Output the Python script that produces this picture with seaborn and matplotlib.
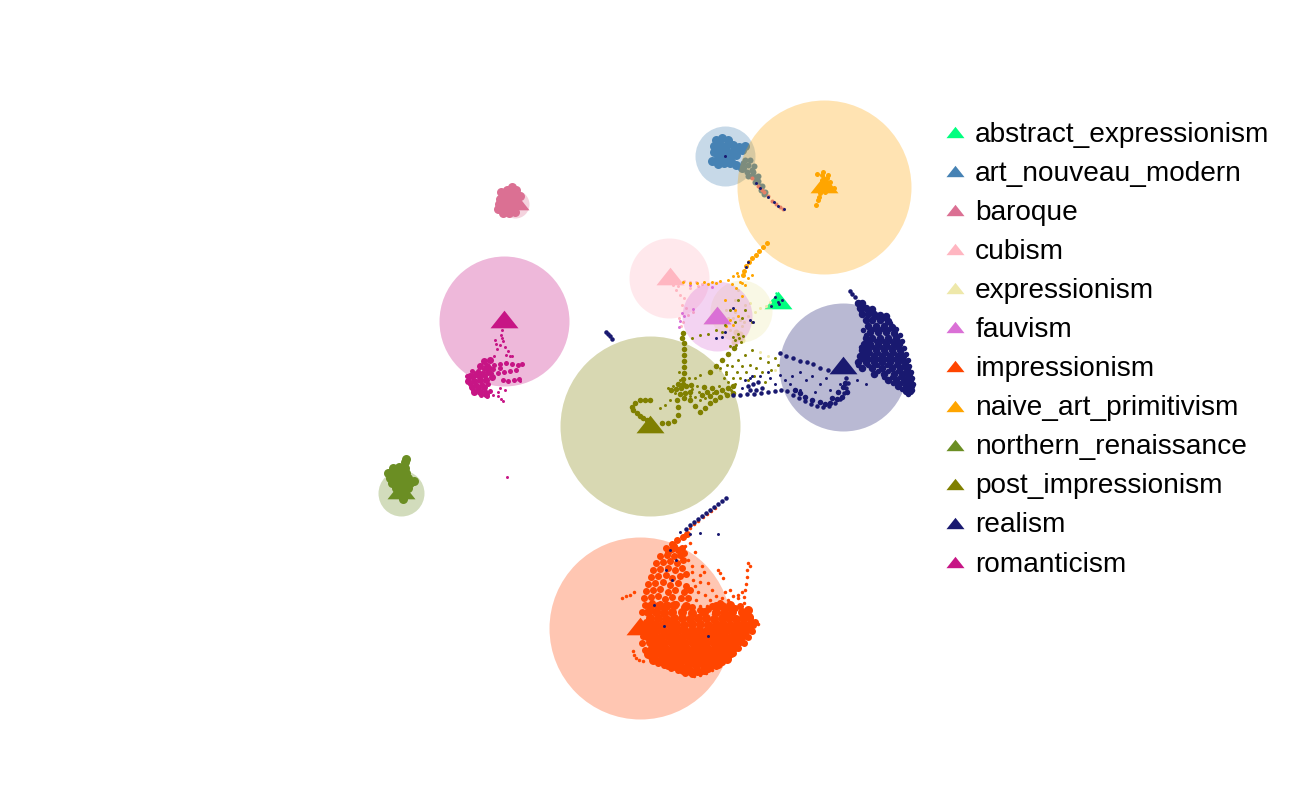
#!/usr/bin/env python3
"""Painting style embedding: points per class, class centres and class spread."""

import numpy as np
import pandas as pd
import seaborn as sns
import matplotlib
matplotlib.use('Agg')
import matplotlib.pyplot as plt
from matplotlib.lines import Line2D

# ============================================================
# DATA (embedding coordinates)
# ============================================================
styles = ['abstract_expressionism', 'art_nouveau_modern', 'baroque', 'cubism',
          'expressionism', 'fauvism', 'impressionism', 'naive_art_primitivism',
          'northern_renaissance', 'post_impressionism', 'realism', 'romanticism']
colours = ['springgreen', 'steelblue', 'palevioletred', 'lightpink',
           'palegoldenrod', 'orchid', 'orangered', 'orange',
           'olivedrab', 'olive', 'midnightblue', 'mediumvioletred']
centre_x = [778, 725, 515, 670, 717, 717, 640, 824, 401, 650, 843, 504]
centre_y = [300, 156, 201, 276, 315, 315, 626, 184, 490, 424, 365, 319]
circle_x = [778, 725, 515, 669, 741, 717, 640, 824, 401, 650, 843, 504]
circle_y = [300, 156, 204, 278, 311, 316, 628, 187, 493, 426, 367, 321]
spread = [2, 30, 14, 40, 31, 35, 91, 87, 23, 90, 64, 65]

impressionism_dense = [
    (683, 670), (690, 671), (697, 671), (704, 670),
    (668, 665), (675, 666), (680, 665), (688, 666), (696, 665), (704, 666), (711, 665), (718, 664),
    (653, 660), (659, 661), (665, 660), (672, 660), (679, 661), (686, 660), (693, 660), (700, 661),
    (707, 660), (714, 660), (721, 660), (727, 659),
    (648, 654), (655, 654), (662, 655), (669, 654), (676, 654), (683, 655), (690, 654), (697, 654),
    (704, 655), (711, 654), (718, 654), (725, 654), (731, 653),
    (652, 648), (659, 648), (666, 649), (673, 648), (680, 648), (687, 649), (694, 648), (701, 648),
    (708, 649), (715, 648), (722, 648), (729, 648), (735, 647),
    (650, 642), (657, 642), (664, 643), (671, 642), (678, 642), (685, 643), (692, 642), (699, 642),
    (706, 643), (713, 642), (720, 642), (727, 642), (734, 642), (740, 641),
    (647, 636), (654, 636), (661, 637), (668, 636), (675, 636), (682, 637), (689, 636), (696, 636),
    (703, 637), (710, 636), (717, 636), (724, 636), (731, 637), (738, 636), (744, 635),
    (650, 630), (657, 630), (664, 631), (671, 630), (678, 630), (685, 631), (692, 630), (699, 630),
    (706, 631), (713, 630), (720, 630), (727, 630), (734, 631), (741, 630), (748, 629),
    (648, 624), (655, 624), (662, 625), (669, 624), (676, 624), (684, 625), (692, 624), (700, 624),
    (708, 625), (716, 624), (723, 624), (730, 625), (737, 624), (744, 624), (751, 623),
    (650, 618), (658, 618), (666, 619), (674, 618), (682, 618), (690, 619), (698, 618), (706, 618),
    (714, 619), (722, 618), (729, 618), (736, 619), (743, 618), (749, 617),
    (648, 612), (656, 612), (664, 613), (672, 612), (682, 612), (692, 613), (704, 612), (716, 612),
    (724, 613), (732, 612), (742, 612), (748, 610),
    (650, 606), (658, 606), (666, 606), (674, 605), (686, 606), (716, 606), (722, 606), (730, 605),
]
impressionism_fill = [
    (666, 548), (672, 549), (678, 550), (682, 548), (660, 556), (667, 555), (674, 556), (680, 555),
    (684, 553), (656, 563), (663, 562), (670, 561), (677, 563), (683, 560), (653, 570), (660, 569),
    (668, 568), (675, 570), (682, 568), (651, 577), (658, 576), (666, 575), (672, 578), (680, 576),
    (686, 574), (648, 584), (655, 583), (663, 582), (670, 585), (678, 583), (686, 586), (646, 591),
    (653, 590), (660, 589), (668, 592), (675, 590), (684, 592), (690, 590), (644, 598), (651, 597),
    (658, 596), (665, 599), (672, 597), (681, 598), (688, 598), (645, 605), (652, 603), (660, 604),
    (668, 605), (676, 604), (684, 607), (692, 607), (642, 612), (650, 610), (657, 611), (664, 609),
    (700, 610), (708, 609), (712, 606), (720, 603), (727, 608), (735, 608), (740, 606), (745, 613),
    (750, 618), (753, 625), (755, 622), (752, 631), (748, 637), (744, 643), (738, 648), (733, 653),
    (728, 657), (722, 662), (716, 666), (708, 669), (700, 672), (692, 674), (685, 673), (678, 670),
    (671, 668), (664, 665), (658, 663), (651, 657), (645, 650), (642, 643), (643, 636), (646, 622),
    (672, 544), (677, 540), (683, 537), (687, 534), (668, 552), (674, 546),
]
impressionism_fine = [
    (690, 528), (694, 524), (698, 521), (703, 517), (707, 514), (711, 511), (715, 508),
    (622, 598), (626, 596), (630, 595), (634, 592), (633, 651), (634, 655), (636, 658), (639, 660),
    (643, 661), (748, 563), (747, 570), (747, 577), (746, 584), (745, 590), (744, 597), (744, 603),
    (750, 566), (742, 592), (738, 598),
    (718, 570), (720, 573), (723, 578), (700, 582), (705, 595), (712, 590), (710, 600), (728, 600),
    (738, 595), (730, 590), (725, 592), (696, 600), (700, 606), (707, 606), (700, 575), (692, 572),
    (695, 586), (704, 572), (693, 580), (698, 592), (716, 596), (722, 598), (733, 596), (708, 583),
    (755, 623), (758, 624), (694, 676), (700, 675), (706, 673), (712, 670), (690, 543), (695, 552),
    (688, 560), (692, 566), (702, 566), (685, 546), (713, 614), (700, 614),
]

realism_dense = [
    (858, 303), (862, 303), (860, 308), (866, 308), (872, 309),
    (862, 314), (868, 314), (874, 314), (880, 315), (886, 316),
    (866, 320), (872, 320), (880, 320), (888, 321), (868, 326), (876, 326), (884, 326), (892, 327),
    (870, 332), (878, 332), (886, 332), (894, 333), (866, 338), (872, 338), (880, 338), (888, 338), (896, 338),
    (864, 344), (870, 344), (878, 344), (886, 344), (894, 344), (899, 344),
    (862, 350), (868, 350), (876, 350), (884, 350), (892, 350), (900, 350),
    (860, 356), (866, 356), (874, 356), (882, 356), (890, 356), (898, 356), (903, 356),
    (858, 362), (866, 362), (874, 362), (882, 362), (890, 362), (898, 362), (905, 362),
    (862, 368), (872, 368), (882, 368), (892, 368), (900, 368), (907, 368),
    (874, 374), (884, 374), (894, 374), (902, 374), (909, 374),
    (888, 380), (896, 380), (904, 380), (910, 380), (898, 386), (906, 386), (911, 386), (906, 391), (910, 391),
]
realism_fill = [
    (861, 311), (869, 311), (877, 317), (884, 318), (890, 323), (896, 329), (900, 335), (902, 341),
    (904, 348), (906, 354), (908, 360), (909, 366), (911, 372), (912, 378), (913, 384), (912, 390),
    (908, 394), (863, 330), (866, 335), (873, 329), (881, 329), (889, 329), (869, 341), (876, 341),
    (883, 341), (891, 341), (898, 341), (861, 347), (866, 347), (873, 347), (881, 347), (889, 347),
    (897, 347), (863, 353), (870, 353), (878, 353), (886, 353), (894, 353), (901, 353), (862, 359),
    (870, 359), (878, 359), (886, 359), (894, 359), (902, 359), (858, 365), (868, 365), (877, 365),
    (887, 365), (896, 365), (904, 365), (878, 371), (888, 371), (898, 371), (906, 371), (884, 377),
    (892, 377), (900, 377), (907, 377), (893, 383), (901, 383), (908, 383), (902, 389),
    (820, 402), (830, 403), (837, 399), (843, 387), (812, 400), (805, 397), (847, 392), (842, 397),
    (825, 404), (800, 393), (795, 390), (838, 392), (832, 398), (845, 383),
]
realism_curve = [
    (850, 291), (852, 294), (855, 297), (733, 395), (740, 395), (747, 394), (754, 394), (761, 393),
    (768, 392), (775, 391), (781, 390), (787, 391), (793, 395), (799, 398), (805, 401), (811, 404),
    (817, 406), (823, 407), (829, 406), (835, 403), (840, 399), (844, 393), (846, 388), (848, 383),
    (846, 378), (780, 353), (786, 356), (793, 358), (800, 361), (807, 362), (813, 364), (820, 368),
    (828, 370), (606, 332), (608, 334), (610, 336), (612, 339),
    (748, 386), (753, 384), (758, 382), (762, 388), (756, 390), (750, 390),
    (726, 498), (722, 501), (718, 504), (714, 507), (710, 510), (706, 513), (702, 516), (698, 519),
    (694, 522), (690, 525), (686, 529),
]
realism_fine = [
    (780, 375), (785, 380), (792, 376), (800, 372), (806, 380), (812, 376), (820, 384), (826, 378),
    (830, 390), (815, 392), (800, 390), (790, 384), (775, 384), (770, 378), (835, 372), (840, 384),
    (760, 376), (768, 372), (750, 378), (857, 380), (866, 384), (748, 262), (746, 267), (718, 534),
    (700, 533), (676, 560), (672, 580), (654, 605), (664, 626), (708, 636), (725, 156),
    (775, 297), (778, 302), (782, 300), (779, 304), (771, 306), (750, 320), (753, 322),
    (733, 308), (722, 337), (716, 338), (725, 332), (745, 380), (752, 376), (742, 388),
    (680, 532), (670, 550), (666, 570), (690, 534),
]

post_impressionism_dense = [
    (683, 333), (682, 338), (684, 343), (684, 349), (684, 355), (684, 361), (684, 367), (684, 373),
    (683, 379), (683, 384), (671, 390), (676, 389), (681, 388), (686, 386), (691, 385), (678, 384),
    (680, 394), (685, 393), (690, 392), (684, 398), (677, 400), (678, 407), (678, 415), (674, 421),
    (668, 423), (662, 423), (690, 400), (695, 406), (700, 412), (705, 408), (710, 403), (715, 400),
    (720, 397), (727, 395), (733, 393), (650, 400), (645, 400), (640, 400), (635, 403), (632, 407),
    (633, 410), (637, 413), (640, 416), (643, 418), (647, 420), (702, 395), (707, 392), (712, 388),
    (704, 387), (710, 396), (716, 392), (722, 390), (728, 388), (733, 386), (710, 372), (716, 366),
    (722, 360), (728, 354), (734, 348),
]
post_impressionism_fine = [
    (720, 368), (726, 372), (732, 366), (738, 360), (745, 355), (750, 365), (746, 372), (756, 368),
    (740, 378), (733, 378), (728, 382), (748, 380), (762, 372), (768, 362), (775, 358), (778, 365),
    (760, 358), (752, 350), (724, 378), (695, 378), (700, 375), (670, 400), (665, 405), (660, 408),
    (692, 338), (700, 335), (708, 334), (716, 330), (722, 332), (725, 325), (735, 322), (742, 318),
    (745, 310), (730, 310), (738, 300), (752, 322), (675, 393), (673, 386), (668, 388), (692, 389),
    (697, 386), (699, 392), (705, 398), (713, 393), (719, 386), (725, 393), (731, 390), (700, 400),
    (695, 397), (690, 396), (680, 380), (689, 378), (679, 372), (735, 340), (739, 338), (741, 342),
    (736, 345), (733, 337), (738, 334), (743, 336), (730, 346), (726, 374), (737, 372), (742, 366),
    (754, 376), (765, 382), (735, 384), (727, 365), (771, 370),
]

naive_dense = [
    (767, 243), (763, 247), (759, 251), (756, 255), (752, 258), (749, 262), (746, 266), (744, 271),
    (743, 275), (823, 172), (828, 175), (822, 180), (830, 182), (834, 188), (820, 193), (825, 192),
    (818, 200), (816, 205), (817, 174), (822, 175), (819, 197), (827, 178),
]
naive_fine = [
    (683, 282), (690, 283), (697, 283), (704, 282), (712, 282), (720, 281), (728, 280), (733, 276),
    (737, 273), (740, 282), (732, 284), (736, 288), (745, 285), (748, 278), (742, 296), (735, 310),
    (733, 325), (725, 300), (752, 275), (738, 276), (742, 283), (708, 284), (716, 283), (730, 320),
    (738, 316), (726, 326),
]

art_nouveau_dense = [
    (716, 140), (722, 138), (728, 140), (733, 145), (714, 146), (720, 145), (726, 146), (714, 152),
    (720, 151), (727, 152), (733, 152), (739, 147), (745, 146), (712, 161), (718, 158), (724, 158),
    (730, 157), (736, 155), (718, 164), (724, 163), (730, 163), (736, 165), (742, 150), (742, 168),
]
art_nouveau_tail = [
    (745, 160), (748, 165), (747, 172), (752, 170), (751, 176), (755, 177), (755, 182), (760, 186),
    (743, 163), (750, 160), (754, 166), (748, 176), (758, 176), (758, 181), (753, 172), (762, 186),
    (761, 190), (765, 192), (764, 194),
]
tail_baroque = [(758, 186), (762, 190), (764, 192), (768, 196), (772, 201), (776, 204), (780, 207), (783, 209), (752, 178)]
tail_realism = [(760, 188), (768, 197), (774, 202), (778, 206), (784, 209), (756, 183)]

baroque_dense = [
    (512, 187), (507, 190), (516, 190), (503, 194), (509, 194), (515, 195), (500, 199), (506, 199),
    (512, 199), (499, 204), (505, 204), (511, 204), (500, 209), (506, 209), (512, 209), (503, 213),
    (509, 213), (515, 212), (520, 196), (519, 205), (498, 209), (501, 192),
]
romanticism_dense = [
    (470, 376), (476, 374), (482, 374), (488, 372), (468, 381), (474, 381), (480, 380), (486, 380),
    (492, 377), (472, 387), (478, 387), (484, 387), (474, 392), (480, 392), (486, 394), (484, 361),
    (490, 360), (480, 366), (487, 366),
]
romanticism_fill = [
    (472, 371), (478, 371), (484, 369), (490, 368), (467, 376), (473, 377), (479, 377), (485, 376),
    (491, 373), (470, 384), (476, 384), (482, 384), (488, 384), (473, 390), (479, 390), (485, 391),
    (490, 391), (481, 395), (487, 396), (494, 365), (500, 364), (506, 363), (512, 364), (518, 365),
    (522, 364), (498, 373), (504, 372), (510, 371), (516, 370), (503, 380), (508, 381), (514, 380),
    (519, 379), (493, 369), (500, 368),
]
romanticism_fine = [
    (496, 344), (497, 349), (503, 341), (505, 347), (508, 351), (512, 356), (500, 345), (502, 330),
    (501, 335), (502, 338), (493, 395), (498, 396), (501, 399), (503, 401), (507, 477), (520, 381),
    (494, 356), (500, 388), (505, 390), (498, 392), (510, 356), (495, 340), (506, 355),
]
northern_dense = [
    (406, 459), (405, 462), (393, 468), (399, 467), (405, 468), (388, 473), (394, 473), (400, 473),
    (406, 473), (390, 478), (396, 478), (402, 478), (408, 478), (392, 483), (398, 483), (404, 483),
    (410, 483), (414, 481), (396, 488), (402, 488), (408, 488), (401, 495), (403, 499),
]
cubism_fine = [
    (684, 281), (690, 282), (696, 282), (702, 284), (676, 290), (673, 285), (680, 295), (684, 298),
    (682, 305), (686, 308), (679, 318), (683, 322), (688, 315), (693, 312), (681, 326), (698, 286),
    (690, 288), (678, 286),
]
fauvism_fine = [(680, 321), (684, 316), (679, 327), (690, 285), (712, 287), (693, 309), (682, 313)]
expressionism_dense = [(737, 338), (740, 334), (734, 342), (742, 340), (736, 332)]
expressionism_fine = [
    (755, 312), (760, 308), (766, 306), (770, 302), (720, 370), (768, 356), (760, 352), (775, 370),
    (735, 300), (728, 318), (742, 326), (750, 303), (735, 312), (740, 320), (745, 305), (738, 290),
    (730, 330), (726, 310), (733, 318), (748, 316), (744, 322),
]
abstract_fine = [(772, 300), (778, 296), (782, 302), (776, 293), (775, 301)]

# (style, points, pixel diameter) for the cloud of each style
point_groups = [
    ('abstract_expressionism', abstract_fine, 2.5),
    ('art_nouveau_modern', art_nouveau_dense, 9), ('art_nouveau_modern', art_nouveau_tail, 6),
    ('baroque', baroque_dense, 9), ('baroque', tail_baroque, 4),
    ('cubism', cubism_fine, 3),
    ('expressionism', expressionism_dense, 6), ('expressionism', expressionism_fine, 3),
    ('fauvism', fauvism_fine, 3),
    ('impressionism', impressionism_dense, 9), ('impressionism', impressionism_fill, 7),
    ('impressionism', impressionism_fine, 3.5),
    ('naive_art_primitivism', naive_dense, 5), ('naive_art_primitivism', naive_fine, 3),
    ('northern_renaissance', northern_dense, 9),
    ('post_impressionism', post_impressionism_dense, 5.5), ('post_impressionism', post_impressionism_fine, 3),
    ('realism', realism_dense, 7.5), ('realism', realism_fill, 5.5), ('realism', realism_curve, 4.5),
    ('realism', realism_fine, 3), ('realism', tail_realism, 3),
    ('romanticism', romanticism_dense, 7), ('romanticism', romanticism_fill, 5),
    ('romanticism', romanticism_fine, 3),
]


def px_to_area(diameter):
    """Marker area in points^2 for a diameter in pixels at 100 dpi."""
    return (diameter * 72 / 100) ** 2


# ============================================================
# MAIN
# ============================================================
def main():
    sns.set_theme(style='white')
    plt.rcParams['font.family'] = ['Liberation Sans', 'DejaVu Sans']
    palette = dict(zip(styles, colours))
    triangle = [(-1, -0.63), (1, -0.63), (0, 0.63)]

    fig = plt.figure(figsize=(13, 8), dpi=100)
    ax = fig.add_axes([0, 0, 1, 1])

    # each style in turn: its cloud, then its circle, then its centre
    summary = pd.DataFrame({'style': styles, 'cx': centre_x, 'cy': centre_y,
                            'x': circle_x, 'y': circle_y, 'r': spread})
    for row in summary.itertuples():
        for style, points, diameter in point_groups:
            if style != row.style:
                continue
            pts = np.array(points)
            sns.scatterplot(x=pts[:, 0], y=pts[:, 1], color=palette[style], s=px_to_area(diameter),
                            linewidth=0, ax=ax, legend=False)
        ax.scatter(row.x, row.y, s=px_to_area(2 * row.r), color=palette[row.style],
                   alpha=0.3, linewidths=0)
        ax.scatter(row.cx, row.cy, s=px_to_area(28), color=palette[row.style],
                   marker=triangle, linewidths=0)

    ax.set_xlim(0, 1300)
    ax.set_ylim(800, 0)
    ax.set_axis_off()

    handles = [Line2D([], [], linestyle='none', marker=triangle, markersize=13,
                      markerfacecolor=palette[s], markeredgewidth=0, label=s) for s in styles]
    ax.legend(handles=handles, loc='upper left', bbox_to_anchor=(941 / 1300, 1 - 122 / 800),
              frameon=False, fontsize=20.2, labelspacing=0.465, handlelength=1.0, handletextpad=0.22,
              borderpad=0, borderaxespad=0, labelcolor='black')

    fig.savefig('out.png', dpi=100)
    plt.close(fig)


if __name__ == '__main__':
    main()
